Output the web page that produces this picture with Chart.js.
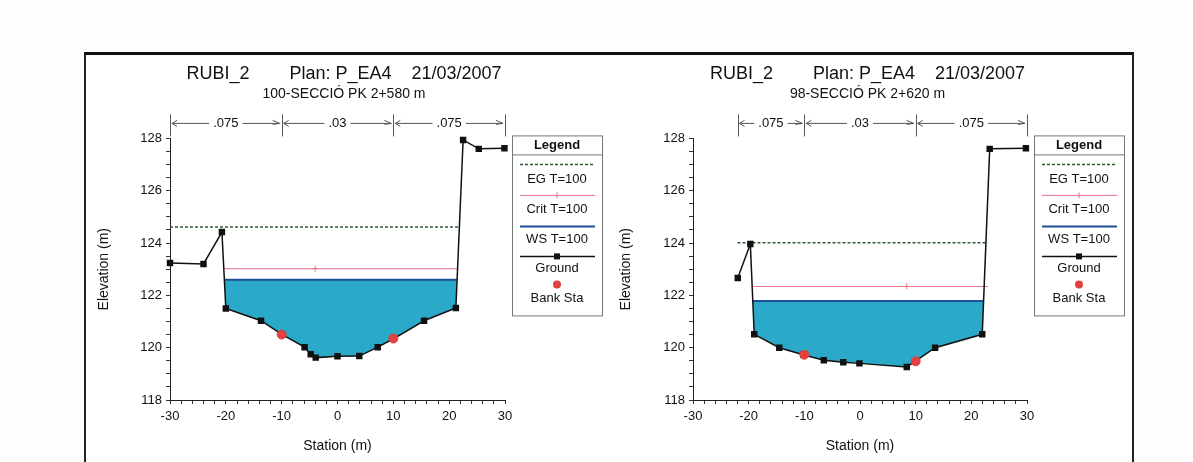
<!DOCTYPE html>
<html>
<head>
<meta charset="utf-8">
<script src="https://cdn.jsdelivr.net/npm/chart.js@4.4.1/dist/chart.umd.min.js"></script>
<style>
  body { margin: 0; background: #fcfdfc; width: 1193px; height: 462px; overflow: hidden; }
  #frame { position: absolute; left: 84px; top: 52px; width: 1046px; height: 420px;
           border-top: 3px solid #111; border-left: 2px solid #222; border-right: 2px solid #222; background: #fff; }
  #left { position: absolute; left: 85px; top: 55px; }
  #right { position: absolute; left: 610px; top: 55px; }
</style>
</head>
<body>
<div id="frame"></div>
<canvas id="left" width="518" height="407"></canvas>
<canvas id="right" width="515" height="407"></canvas>
<script>
// ---- section 100 (PK 2+580) ----
const groundStaL = [-30, -24, -20.7, -20.0, -13.7, -9.9, -5.9, -4.8, -3.9, 0, 3.9, 7.2, 10.1, 15.5, 21.2, 22.5, 25.3, 29.9];
const groundElL = [123.24, 123.2, 124.42, 121.5, 121.03, 120.5, 120.02, 119.75, 119.62, 119.67, 119.68, 120.02, 120.35, 121.03, 121.52, 127.94, 127.6, 127.62];
const bankStaL = [-10, 10];
const bankElL = [120.5, 120.35];
const wsStaL = [-20.26, 21.42];
const wsElL = 122.6;
const critStaL = [-20.3, -4, 21.6];
const critElL = 123.02;
const egStaL = [-30, 21.7];
const egElL = 124.61;
const nBreaksL = [-30, -10, 10, 30];

// ---- section 98 (PK 2+620) ----
const groundStaR = [-21.96, -19.7, -19.0, -14.5, -10.2, -6.5, -3.0, -0.1, 8.4, 9.9, 13.5, 21.96, 23.3, 29.8];
const groundElR = [122.66, 123.96, 120.51, 120.0, 119.73, 119.52, 119.44, 119.4, 119.26, 119.48, 120.0, 120.51, 127.6, 127.62];
const bankStaR = [-10, 10];
const bankElR = [119.73, 119.48];
const wsStaR = [-19.26, 22.2];
const wsElR = 121.78;
const critStaR = [-19.4, 8.4, 23.0];
const critElR = 122.34;
const egStaR = [-22, 22.7];
const egElR = 124.01;
const nBreaksR = [-22, -10, 10, 30];

const nValues = ['.075', '.03', '.075'];
const titleText = 'RUBI_2        Plan: P_EA4    21/03/2007';
const legendLabels = ['EG T=100', 'Crit T=100', 'WS T=100', 'Ground', 'Bank Sta'];

const FONT = '"Liberation Sans", Arial, sans-serif';
Chart.defaults.font.family = FONT;
Chart.defaults.color = '#111';

function pts(xs, ys) {
  return xs.map((x, i) => ({ x: x, y: Array.isArray(ys) ? ys[i] : ys }));
}

// manning n row above the plot
const nRow = {
  id: 'nRow',
  afterDraw(chart, args, opts) {
    const { ctx, chartArea } = chart;
    const xs = chart.scales.x;
    const top = chartArea.top - 24, bot = chartArea.top - 2, mid = chartArea.top - 15;
    ctx.save();
    ctx.strokeStyle = '#555';
    ctx.fillStyle = '#111';
    ctx.lineWidth = 1;
    ctx.font = '13px ' + FONT;
    ctx.textAlign = 'center';
    ctx.textBaseline = 'middle';
    const px = opts.breaks.map(b => xs.getPixelForValue(b));
    px.forEach(p => {
      ctx.beginPath(); ctx.moveTo(Math.round(p) + 0.5, top); ctx.lineTo(Math.round(p) + 0.5, bot); ctx.stroke();
    });
    for (let i = 0; i < opts.values.length; i++) {
      const a = px[i], b = px[i + 1], c = (a + b) / 2;
      const tw = ctx.measureText(opts.values[i]).width;
      ctx.fillText(opts.values[i], c, mid);
      const l1 = a + 2, l2 = c - tw / 2 - 4, r1 = c + tw / 2 + 4, r2 = b - 2;
      ctx.beginPath();
      ctx.moveTo(l2, mid); ctx.lineTo(l1, mid);
      ctx.moveTo(l1 + 5, mid - 3); ctx.lineTo(l1, mid); ctx.lineTo(l1 + 5, mid + 3);
      ctx.moveTo(r1, mid); ctx.lineTo(r2, mid);
      ctx.moveTo(r2 - 7, mid - 3); ctx.lineTo(r2, mid); ctx.lineTo(r2 - 7, mid + 1);
      ctx.stroke();
    }
    ctx.restore();
  }
};

// boxed legend on the right of the plot
const boxLegend = {
  id: 'boxLegend',
  afterDraw(chart) {
    const { ctx, chartArea } = chart;
    const x = chartArea.right + 7, y = chartArea.top - 3, w = 90, h = 180;
    const ds = chart.data.datasets;
    const find = l => ds.find(d => d.label === l);
    ctx.save();
    ctx.strokeStyle = '#777';
    ctx.lineWidth = 1;
    ctx.strokeRect(x + 0.5, y + 0.5, w, h);
    ctx.beginPath(); ctx.moveTo(x, y + 19.5); ctx.lineTo(x + w, y + 19.5); ctx.stroke();
    ctx.fillStyle = '#111';
    ctx.textAlign = 'center';
    ctx.textBaseline = 'middle';
    ctx.font = 'bold 13px ' + FONT;
    ctx.fillText('Legend', x + w / 2, y + 10);
    ctx.font = '13px ' + FONT;
    const cx = x + w / 2, x1 = x + 8, x2 = x + w - 7;
    const rows = [[29, 44], [60, 74], [91, 104], [121, 133], [149, 163]];
    legendLabels.forEach((lab, i) => {
      const d = find(lab);
      const sy = y + rows[i][0];
      ctx.save();
      if (lab === 'Bank Sta') {
        ctx.fillStyle = d.pointBackgroundColor;
        ctx.beginPath(); ctx.arc(cx, sy, 4, 0, Math.PI * 2); ctx.fill();
      } else {
        ctx.strokeStyle = d.borderColor;
        ctx.lineWidth = d.borderWidth;
        ctx.setLineDash(d.borderDash || []);
        ctx.beginPath(); ctx.moveTo(x1, sy); ctx.lineTo(x2, sy); ctx.stroke();
        ctx.setLineDash([]);
        if (lab === 'Ground') {
          ctx.fillStyle = d.pointBackgroundColor;
          ctx.fillRect(cx - 3, sy - 3, 6, 6);
        }
        if (lab === 'Crit T=100') {
          ctx.lineWidth = 1;
          ctx.beginPath(); ctx.moveTo(cx, sy - 3); ctx.lineTo(cx, sy + 3); ctx.stroke();
        }
      }
      ctx.restore();
      ctx.fillText(lab, cx, y + rows[i][1]);
    });
    ctx.restore();
  }
};

function makeChart(id, d) {
  return new Chart(document.getElementById(id), {
    type: 'line',
    data: {
      datasets: [
        { label: 'EG T=100', data: pts(d.egSta, d.egEl), borderColor: '#2e5b2e', borderDash: [3, 2],
          borderWidth: 1.5, pointRadius: 0, order: 4 },
        { label: 'Crit T=100', data: pts(d.critSta, d.critEl), borderColor: '#e6728b', borderWidth: 1,
          pointStyle: 'cross', pointRadius: c => (c.dataIndex === 1 ? 3 : 0), order: 3 },
        { label: 'WS T=100', data: pts(d.wsSta, d.wsEl), borderColor: '#1d4f9a', borderWidth: 2,
          pointRadius: 0, fill: { target: 3, above: '#2aa9c8', below: 'rgba(0,0,0,0)' }, order: 2 },
        { label: 'Ground', data: pts(d.groundSta, d.groundEl), borderColor: '#111', borderWidth: 1.5,
          pointStyle: 'rect', pointRadius: 3.5, pointBackgroundColor: '#111', pointBorderColor: '#111', order: 1 },
        { label: 'Bank Sta', data: pts(d.bankSta, d.bankEl), showLine: false, pointRadius: 4.5,
          pointBackgroundColor: '#e2413f', borderColor: '#e2413f', order: 0 }
      ]
    },
    options: {
      responsive: false,
      animation: false,
      clip: false,
      layout: { padding: 0 },
      plugins: {
        legend: { display: false },
        tooltip: { enabled: false },
        title: { display: true, text: titleText, font: { size: 18, weight: 'normal' }, color: '#111',
                 padding: { top: 8, bottom: 0 } },
        subtitle: { display: true, text: d.subtitle, font: { size: 14 }, color: '#111',
                    padding: { top: 1, bottom: 36 } },
        nRow: { breaks: d.breaks, values: nValues }
      },
      scales: {
        x: {
          type: 'linear', min: -30, max: 30,
          afterFit: s => { s.height = 62; },
          border: { display: true, color: '#222', width: 1 },
          grid: { drawOnChartArea: false, drawTicks: true, tickLength: 4, color: '#333' },
          ticks: { stepSize: 2, autoSkip: false, maxRotation: 0, padding: 5, font: { size: 13 },
                   callback: v => (v % 10 === 0 ? v : '') },
          title: { display: true, text: 'Station (m)', font: { size: 14 }, padding: { bottom: 7 } }
        },
        y: {
          min: 118, max: 128,
          afterFit: s => { s.width = d.yWidth; },
          border: { display: true, color: '#222', width: 1 },
          grid: { drawOnChartArea: false, drawTicks: true, tickLength: 4, color: '#333' },
          ticks: { stepSize: 0.5, autoSkip: false, padding: 4, font: { size: 13 },
                   callback: v => (v % 2 === 0 ? v : '') },
          title: { display: true, text: 'Elevation (m)', font: { size: 14 }, padding: { top: d.yTitlePad } }
        },
        // empty right axis that keeps room for the legend box
        side: {
          type: 'linear', position: 'right', min: 0, max: 1,
          afterFit: s => { s.width = d.padRight; },
          border: { display: false }, grid: { display: false }, ticks: { display: false }
        }
      }
    },
    plugins: [nRow, boxLegend]
  });
}

makeChart('left', {
  groundSta: groundStaL, groundEl: groundElL, bankSta: bankStaL, bankEl: bankElL,
  wsSta: wsStaL, wsEl: wsElL, critSta: critStaL, critEl: critElL, egSta: egStaL, egEl: egElL,
  breaks: nBreaksL, subtitle: '100-SECCIÓ PK 2+580 m', padRight: 98, yWidth: 85, yTitlePad: 11
});

makeChart('right', {
  groundSta: groundStaR, groundEl: groundElR, bankSta: bankStaR, bankEl: bankElR,
  wsSta: wsStaR, wsEl: wsElR, critSta: critStaR, critEl: critElR, egSta: egStaR, egEl: egElR,
  breaks: nBreaksR, subtitle: '98-SECCIÓ PK 2+620 m', padRight: 98, yWidth: 83, yTitlePad: 8
});
</script>
</body>
</html>
